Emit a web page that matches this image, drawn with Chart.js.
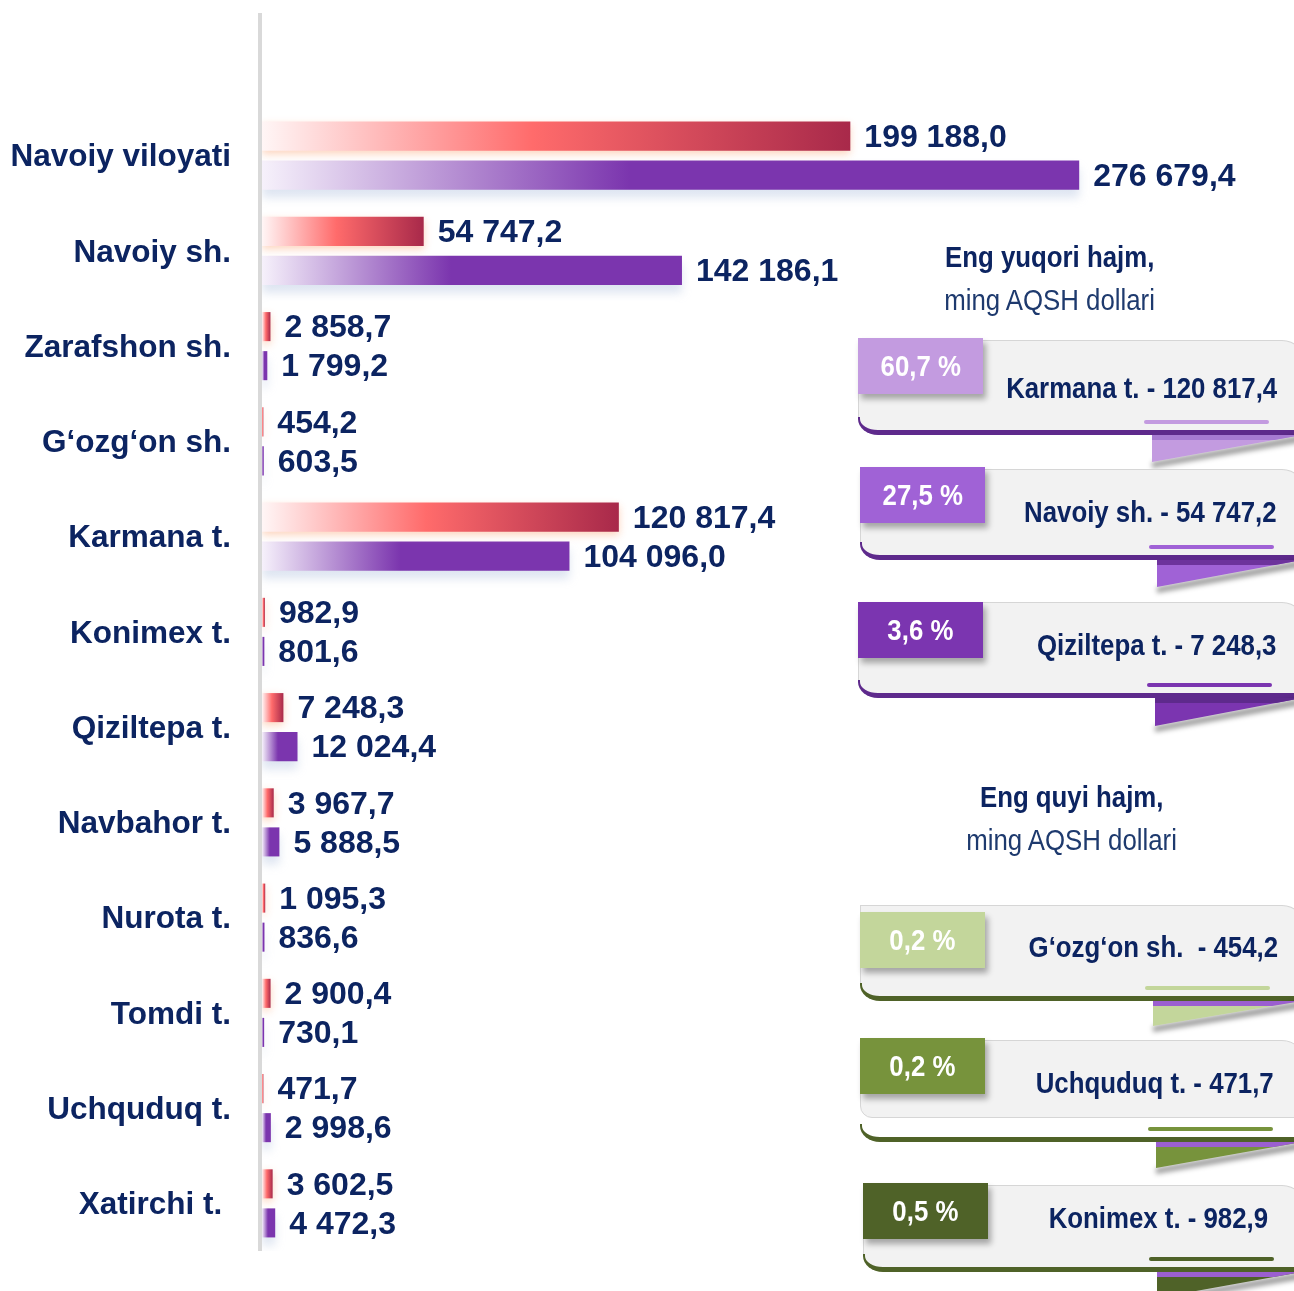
<!DOCTYPE html>
<html lang="uz">
<head>
<meta charset="utf-8">
<title>Navoiy viloyati</title>
<script src="https://cdn.jsdelivr.net/npm/chart.js@4.4.1/dist/chart.umd.min.js"></script>
<style>
  html, body { margin: 0; padding: 0; background: #fff; overflow: hidden; }
  #wrap { position: relative; width: 1294px; height: 1291px; overflow: hidden; }
  #barChart { position: absolute; left: 0; top: 0; }
  .abs { position: absolute; }
  .narrow { font-family: "Liberation Sans", Arial, sans-serif; }
  .narrow span { display: inline-block; transform: scaleX(0.86); white-space: pre; }
  .head { font-size: 30px; line-height: 31px; color: #0c2461; text-align: center; width: 400px; }
  .head span { transform-origin: center center; }
  .head.bold { font-weight: bold; }
  .head.thin { color: #1e3a6e; }
  .card-body { background: #f2f2f2; border: 1px solid #d6d6d6; border-bottom: none; border-top-right-radius: 24px; box-sizing: border-box; }
  .card-body.closed { border-bottom: 1px solid #d6d6d6; border-bottom-left-radius: 12px; }
  .card-line { box-sizing: border-box; border-left: 2px solid; border-bottom: 5px solid; border-bottom-left-radius: 20px 16px; }
  .card-tab { color: #fff; font-weight: bold; font-size: 30px; text-align: center; box-shadow: 3px 5px 6px rgba(0, 0, 0, 0.32); }
  .card-tab span { transform-origin: center center; }
  .card-text { font-weight: bold; font-size: 30px; line-height: 31px; color: #0c2461; text-align: right; width: 420px; }
  .card-text span { transform-origin: right center; }
  .card-ul { height: 4px; border-radius: 2px; }
</style>
</head>
<body>
<div id="wrap">
  <canvas id="barChart" width="1294" height="1301"></canvas>
  <svg width="0" height="0" style="position:absolute">
    <defs>
      <filter id="ribbonBlur" x="-20%" y="-50%" width="140%" height="200%">
        <feGaussianBlur stdDeviation="2.5"/>
      </filter>
    </defs>
  </svg>
  <div id="cards"></div>
</div>
<script>
// Hududlar va ikki qator qiymatlari (ming AQSH dollari)
const categories = [
  'Navoiy viloyati', 'Navoiy sh.', 'Zarafshon sh.', 'G‘ozg‘on sh.', 'Karmana t.', 'Konimex t.',
  'Qiziltepa t.', 'Navbahor t.', 'Nurota t.', 'Tomdi t.', 'Uchquduq t.', 'Xatirchi t. '
];
const firstSeries = [199188.0, 54747.2, 2858.7, 454.2, 120817.4, 982.9, 7248.3, 3967.7, 1095.3, 2900.4, 471.7, 3602.5];
const secondSeries = [276679.4, 142186.1, 1799.2, 603.5, 104096.0, 801.6, 12024.4, 5888.5, 836.6, 730.1, 2998.6, 4472.3];

// O'ng tomondagi kartochkalar
const topTitle = ['Eng yuqori hajm,', 'ming AQSH dollari'];
const topCardNames = ['Karmana t.', 'Navoiy sh.', 'Qiziltepa t.'];
const topCardValues = [120817.4, 54747.2, 7248.3];
const bottomTitle = ['Eng quyi hajm,', 'ming AQSH dollari'];
const bottomCardNames = ['G‘ozg‘on sh. ', 'Uchquduq t.', 'Konimex t.'];
const bottomCardValues = [454.2, 471.7, 982.9];

const navy = '#0c2461';
const redStops = [[0, '#fff6f6'], [0.46, '#ff6b6b'], [1, '#a8294a']];
const purpleStops = [[0, '#f6f1fb'], [0.45, '#7b35ae'], [1, '#7b35ae']];

function formatValue(v) {
  const parts = v.toFixed(1).split('.');
  return parts[0].replace(/\B(?=(\d{3})+(?!\d))/g, ' ') + ',' + parts[1];
}

// har bir ustun uchun o'z uzunligi bo'yicha gradient
function barGradient(context, stops) {
  const chart = context.chart;
  if (!chart.chartArea || context.type !== 'data') return stops[1][1];
  const x = chart.scales.x;
  const x0 = x.getPixelForValue(0);
  const x1 = Math.max(x.getPixelForValue(context.raw), x0 + 1);
  const g = chart.ctx.createLinearGradient(x0, 0, x1, 0);
  stops.forEach(s => g.addColorStop(s[0], s[1]));
  return g;
}

// chap tomondagi kulrang chiziq
const axisLine = {
  id: 'axisLine',
  beforeDatasetsDraw(chart) {
    const ctx = chart.ctx;
    ctx.save();
    ctx.fillStyle = '#d9d9d9';
    ctx.fillRect(chart.chartArea.left - 4, 13, 4, 1238);
    ctx.restore();
  }
};

// ustunlar ostidagi soya
const barShadow = {
  id: 'barShadow',
  beforeDatasetDraw(chart, args) {
    const ctx = chart.ctx;
    ctx.save();
    if (args.index === 0) {
      ctx.shadowColor = 'rgba(250, 160, 110, 0.45)';
      ctx.shadowBlur = 8;
      ctx.shadowOffsetY = 3;
    } else {
      ctx.shadowColor = 'rgba(160, 180, 215, 0.35)';
      ctx.shadowBlur = 10;
      ctx.shadowOffsetY = 8;
    }
  },
  afterDatasetDraw(chart) {
    chart.ctx.restore();
  }
};

// qiymat yozuvlari ustun oxirida
const valueLabels = {
  id: 'valueLabels',
  afterDatasetsDraw(chart) {
    const ctx = chart.ctx;
    ctx.save();
    ctx.font = 'bold 32px "Liberation Sans", Arial, sans-serif';
    ctx.fillStyle = navy;
    ctx.textAlign = 'left';
    ctx.textBaseline = 'middle';
    chart.data.datasets.forEach((ds, i) => {
      chart.getDatasetMeta(i).data.forEach((bar, j) => {
        ctx.fillText(formatValue(ds.data[j]), bar.x + 14, bar.y + 2);
      });
    });
    ctx.restore();
  }
};

const ctx = document.getElementById('barChart').getContext('2d');
new Chart(ctx, {
  type: 'bar',
  data: {
    labels: categories,
    datasets: [
      { data: firstSeries, backgroundColor: c => barGradient(c, redStops) },
      { data: secondSeries, backgroundColor: c => barGradient(c, purpleStops) }
    ]
  },
  options: {
    indexAxis: 'y',
    responsive: false,
    animation: false,
    layout: { padding: { top: 108, bottom: 50, left: 0, right: 0 } },
    datasets: { bar: { categoryPercentage: 0.82, barPercentage: 0.744 } },
    plugins: { legend: { display: false }, tooltip: { enabled: false } },
    scales: {
      x: { min: 0, max: 349400, display: false },
      y: {
        grid: { display: false, drawTicks: false },
        border: { display: false },
        ticks: {
          padding: 31,
          labelOffset: 2,
          color: navy,
          font: { family: '"Liberation Sans", Arial, sans-serif', size: 31.5, weight: 'bold' }
        },
        afterFit(scale) { scale.width = 262; }
      }
    }
  },
  plugins: [axisLine, barShadow, valueLabels]
});

// kartochkalar joylashuvi
const topCardLayout = [
  { x: 858, tabTop: 338, bodyTop: 340, lineBottom: 435, textY: 388, textRight: 1277, ribX: 1152, ribH: 27 },
  { x: 860, tabTop: 467, bodyTop: 469, lineBottom: 560, textY: 512, textRight: 1276, ribX: 1157, ribH: 27 },
  { x: 858, tabTop: 602, bodyTop: 602, lineBottom: 698, textY: 645, textRight: 1276, ribX: 1155, ribH: 28 }
];
const bottomCardLayout = [
  { x: 860, tabTop: 912, bodyTop: 905, lineBottom: 1001, textY: 947, textRight: 1278, ribX: 1153, ribH: 25 },
  { x: 860, tabTop: 1038, bodyTop: 1040, bodyBottom: 1118, lineBottom: 1142, textY: 1083, textRight: 1274, ribX: 1156, ribH: 26 },
  { x: 863, tabTop: 1183, bodyTop: 1185, lineBottom: 1272, textY: 1218, textRight: 1268, ribX: 1157, ribH: 26 }
];
const topCardStyle = { tabs: ['#c39be0', '#a062d6', '#7b35b0'], line: '#5e2a8c', strips: ['#a77ad2', '#6d339c', '#5e2a8c'] };
const bottomCardStyle = { tabs: ['#c3d69b', '#77933c', '#4f6228'], line: '#4f6228', strips: ['#9b5fd0', '#9b5fd0', '#9b5fd0'] };

const cards = document.getElementById('cards');

function addDiv(cls, style, text) {
  const d = document.createElement('div');
  d.className = 'abs ' + cls;
  Object.assign(d.style, style);
  if (text !== undefined) {
    const s = document.createElement('span');
    s.textContent = text;
    d.appendChild(s);
  }
  cards.appendChild(d);
  return d;
}

function addRibbon(x, y, h, color, strip) {
  const w = 1302 - x;
  const ns = 'http://www.w3.org/2000/svg';
  const svg = document.createElementNS(ns, 'svg');
  svg.setAttribute('width', w);
  svg.setAttribute('height', h + 10);
  svg.setAttribute('class', 'abs');
  svg.style.left = x + 'px';
  svg.style.top = y + 'px';
  svg.style.overflow = 'visible';
  const s = 5 * w / h;
  svg.innerHTML =
    `<polygon points="0,${h} ${w},0 ${w},7 0,${h + 6}" fill="rgba(0,0,0,0.38)" filter="url(#ribbonBlur)"/>` +
    `<polygon points="0,0 ${w},0 0,${h}" fill="${color}"/>` +
    `<polygon points="0,0 ${w},0 ${w - s},5 0,5" fill="${strip}"/>`;
  cards.appendChild(svg);
}

function addTitle(lines, cx, y1, y2) {
  addDiv('narrow head bold', { left: (cx - 200) + 'px', top: (y1 - 16) + 'px' }, lines[0]);
  addDiv('narrow head thin', { left: (cx - 200) + 'px', top: (y2 - 16) + 'px' }, lines[1]);
}

function addCards(layout, style, names, values) {
  layout.forEach((p, i) => {
    const share = (values[i] / firstSeries[0] * 100).toFixed(1).replace('.', ',') + ' %';
    const right = 1306;
    const lineTop = p.lineBottom - 18;
    if (p.bodyBottom) {
      addDiv('card-body closed', { left: p.x + 'px', top: p.bodyTop + 'px', width: (right - p.x) + 'px', height: (p.bodyBottom - p.bodyTop) + 'px' });
      addDiv('card-line', { left: p.x + 'px', top: lineTop + 'px', width: (right - p.x) + 'px', height: '18px', borderColor: style.line });
    } else {
      addDiv('card-body', { left: p.x + 'px', top: p.bodyTop + 'px', width: (right - p.x) + 'px', height: (lineTop - p.bodyTop + 2) + 'px' });
      addDiv('card-line', { left: p.x + 'px', top: lineTop + 'px', width: (right - p.x) + 'px', height: '18px', borderColor: style.line, background: '#f2f2f2' });
    }
    addDiv('card-ul', { left: (p.ribX - 8) + 'px', top: (p.lineBottom - 15) + 'px', width: '125px', background: style.tabs[i] });
    addRibbon(p.ribX, p.lineBottom, p.ribH, style.tabs[i], style.strips[i]);
    addDiv('narrow card-tab', { left: p.x + 'px', top: p.tabTop + 'px', width: '125px', height: '56px', lineHeight: '56px', background: style.tabs[i] }, share);
    addDiv('narrow card-text', { left: (p.textRight - 420) + 'px', top: (p.textY - 16) + 'px' }, names[i] + ' - ' + formatValue(values[i]));
  });
}

addTitle(topTitle, 1050, 257, 300);
addCards(topCardLayout, topCardStyle, topCardNames, topCardValues);
addTitle(bottomTitle, 1072, 797, 840);
addCards(bottomCardLayout, bottomCardStyle, bottomCardNames, bottomCardValues);
</script>
</body>
</html>
